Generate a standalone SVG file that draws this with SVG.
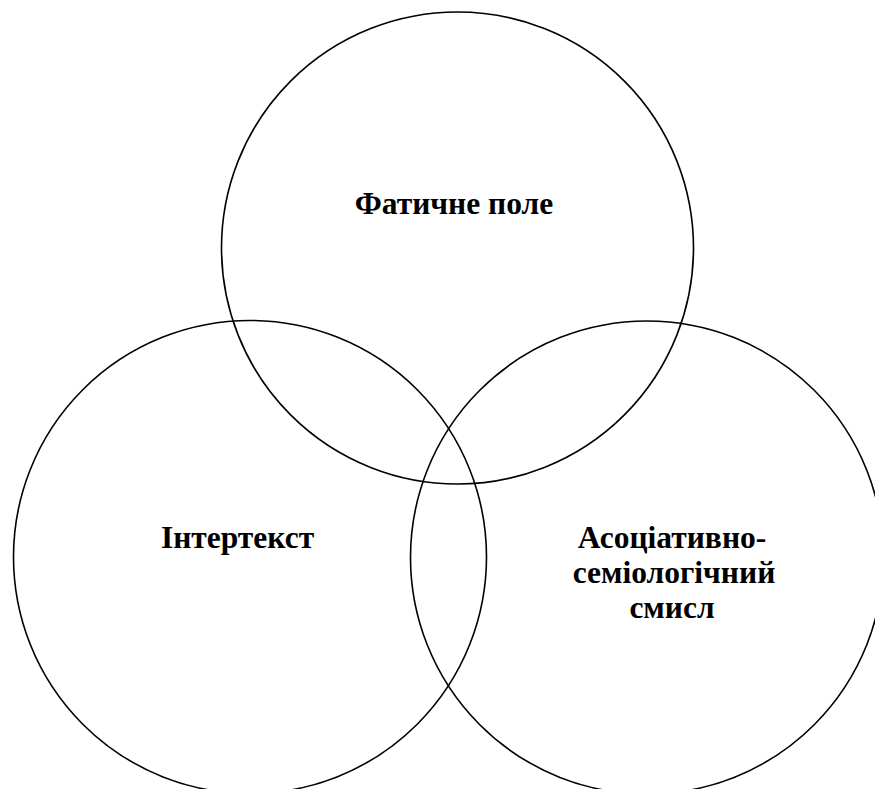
<svg xmlns="http://www.w3.org/2000/svg" width="875" height="789" viewBox="0 0 875 789">
<style>
.c{fill:none;stroke:#000;stroke-width:1.6}
.t{font-family:"Liberation Serif","Times New Roman",serif;font-weight:bold;font-size:31.5px;fill:#000;text-anchor:middle}
</style>
<rect width="875" height="789" fill="#fff"/>
<g id="fatic">
<circle class="c" cx="457.5" cy="248" r="236"/>
<text class="t" x="454" y="214">Фатичне поле</text>
</g>
<g id="intertext">
<circle class="c" cx="250" cy="557" r="236.5"/>
<text class="t" x="237.5" y="548">Інтертекст</text>
</g>
<g id="assoc">
<circle class="c" cx="647" cy="557.5" r="236.5"/>
<text class="t" x="672" y="548">Асоціативно-</text>
<text class="t" x="674" y="583">семіологічний</text>
<text class="t" x="672" y="618">смисл</text>
</g>
<g id="connectors"></g>
</svg>
